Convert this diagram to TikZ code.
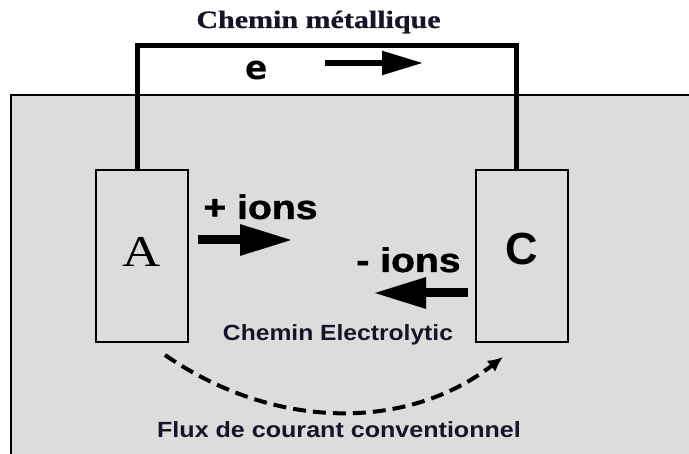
\documentclass[tikz,border=0pt]{standalone}
\usepackage{graphicx}
\usepackage{fontspec}
\setmainfont{Liberation Serif}
\setsansfont{Liberation Sans}
\newfontfamily\dejabold{DejaVu Sans Bold}
\newfontfamily\heavysans{Liberation Sans Bold}[FakeBold=1.2]
\newfontfamily\heavyserif{Liberation Serif Bold}[FakeBold=0.6]
\usetikzlibrary{arrows.meta}
\definecolor{bg}{RGB}{220,220,220}
\definecolor{ink}{RGB}{22,20,38}
\begin{document}
\begin{tikzpicture}[x=1pt,y=-1pt,
  lbl/.style={inner sep=0pt, outer sep=0pt, anchor=base},
  electrode/.style={draw=black, fill=bg, line width=2.5pt, minimum width=92pt, minimum height=172pt, inner sep=0pt},
  wire/.style={line width=5pt, line join=miter},
  blockarrow/.style={line width=9pt, -{Triangle[length=53pt,width=29pt]}},
  earrow/.style={line width=5.5pt, -{Triangle[length=41pt,width=23pt]}},
  flow/.style={line width=4pt, dash pattern=on 13pt off 7pt, -{Latex[length=15pt,width=14pt]}}
]
\useasboundingbox (0,0) rectangle (689,454);
% electrolyte bath
\fill[bg] (11,95) rectangle (689,454);
\draw[line width=2.5pt] (11,455) -- (11,95) -- (690,95);
% metallic path
\coordinate (wl) at (137,46);
\coordinate (wr) at (516,46);
\node[electrode] (A) at (142,256) {};
\node[electrode] (C) at (522,256) {};
\draw[wire] ([xshift=-5pt]A.north) -- (wl) -- (wr) -- ([xshift=-6pt]C.north);
% texts
\node[lbl, text=ink] (title) at (318.5,28) {\fontsize{25}{25}\selectfont\heavyserif\scalebox{1.2}[1]{Chemin métallique}};
\node[lbl] (elab) at (257,80) {\fontsize{33}{33}\selectfont\dejabold e};
\node[lbl] (Alab) at (141.5,267) {\fontsize{44}{44}\selectfont\scalebox{1.2}[1]{A}};
\node[lbl] (Clab) at (522,265) {\fontsize{45}{45}\selectfont\sffamily\bfseries C};
\node[lbl] (pion) at (260.5,219) {\fontsize{34}{34}\selectfont\heavysans\scalebox{1.15}[1]{+ ions}};
\node[lbl] (mion) at (408.5,272) {\fontsize{34}{34}\selectfont\heavysans\scalebox{1.15}[1]{- ions}};
\node[lbl, text=ink] (elec) at (338,341) {\fontsize{22}{22}\selectfont\sffamily\bfseries\scalebox{1.12}[1]{Chemin Electrolytic}};
\node[lbl, text=ink] (flux) at (339,438) {\fontsize{22}{22}\selectfont\sffamily\bfseries\scalebox{1.14}[1]{Flux de courant conventionnel}};
% arrows
\coordinate (e1) at (325,63);
\coordinate (e2) at (423,63);
\draw[earrow] (e1) -- (e2);
\coordinate (p1) at (198,240);
\coordinate (p2) at (293,240);
\draw[blockarrow] (p1) -- (p2);
\coordinate (m1) at (468,293);
\coordinate (m2) at (373,293);
\draw[blockarrow] (m1) -- (m2);
\coordinate (d1) at (165,355);
\coordinate (d2) at (503,357);
\draw[flow] (d1) .. controls (275,431) and (407,431) .. (d2);
\end{tikzpicture}
\end{document}
